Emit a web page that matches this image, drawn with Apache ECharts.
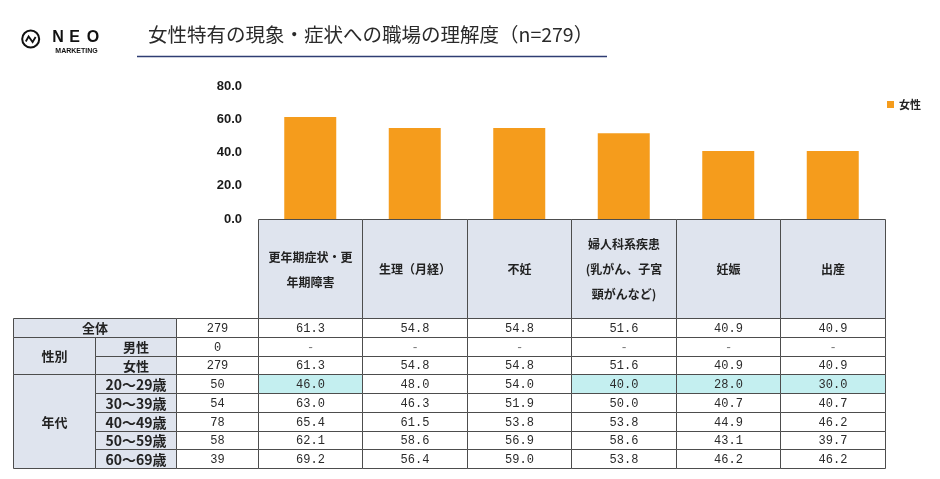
<!DOCTYPE html>
<html>
<head>
<meta charset="utf-8">
<script src="https://cdn.jsdelivr.net/npm/echarts@6/dist/echarts.min.js"></script>
<style>
html,body{margin:0;padding:0;background:#fff;}
#chart{width:940px;height:479px;}
</style>
</head>
<body>
<div id="chart"></div>
<script>
// ---------- data ----------
const titleText = '女性特有の現象・症状への職場の理解度（n=279）';
const seriesName = '女性';
const categories = ['更年期症状・更\n年期障害', '生理（月経）', '不妊', '婦人科系疾患\n(乳がん、子宮\n頸がんなど)', '妊娠', '出産'];
const femaleValues = [61.3, 54.8, 54.8, 51.6, 40.9, 40.9];
const yTicks = [0, 20, 40, 60, 80];

const rowLabels = ['全体', '男性', '女性', '20～29歳', '30～39歳', '40～49歳', '50～59歳', '60～69歳'];
const sampleSizes = [279, 0, 279, 50, 54, 78, 58, 39];
const rowAll = [61.3, 54.8, 54.8, 51.6, 40.9, 40.9];
const rowMale = [null, null, null, null, null, null];
const rowFemale = [61.3, 54.8, 54.8, 51.6, 40.9, 40.9];
const row20s = [46.0, 48.0, 54.0, 40.0, 28.0, 30.0];
const row30s = [63.0, 46.3, 51.9, 50.0, 40.7, 40.7];
const row40s = [65.4, 61.5, 53.8, 53.8, 44.9, 46.2];
const row50s = [62.1, 58.6, 56.9, 58.6, 43.1, 39.7];
const row60s = [69.2, 56.4, 59.0, 53.8, 46.2, 46.2];
const groupNames = ['性別', '年代'];
const groupRows = [[1, 2], [3, 7]];
const highlightRow = 3;
const highlightCols = [0, 3, 4, 5];

// ---------- layout ----------
const tableValues = [rowAll, rowMale, rowFemale, row20s, row30s, row40s, row50s, row60s];
const W = 0.781;           // narrow column width in value-column units
const H = 5.29;            // header row height in body-row units
const colEdges = [-3 * W, -2 * W, -W, 0, 1, 2, 3, 4, 5, 6];
const rowEdges = [0, H];
for (let i = 1; i <= rowLabels.length; i++) rowEdges.push(H + i);

const HEAD_BG = '#dfe4ee';
const HL_BG = '#c4eff0';
const cells = [];
categories.forEach((c, i) => cells.push({c0: 3 + i, c1: 4 + i, r0: 0, r1: 1, text: c, fill: HEAD_BG, kind: 'head'}));
cells.push({c0: 0, c1: 2, r0: 1, r1: 2, text: rowLabels[0], fill: HEAD_BG, kind: 'label'});
groupNames.forEach((g, gi) => {
  const [a, b] = groupRows[gi];
  cells.push({c0: 0, c1: 1, r0: 1 + a, r1: 2 + b, text: g, fill: HEAD_BG, kind: 'label'});
  for (let r = a; r <= b; r++) {
    cells.push({c0: 1, c1: 2, r0: 1 + r, r1: 2 + r, text: rowLabels[r], fill: HEAD_BG, kind: r >= 3 ? 'age' : 'label'});
  }
});
tableValues.forEach((row, r) => {
  cells.push({c0: 2, c1: 3, r0: 1 + r, r1: 2 + r, text: String(sampleSizes[r]), fill: '#ffffff', kind: 'num'});
  row.forEach((v, c) => {
    const hl = r === highlightRow && highlightCols.indexOf(c) >= 0;
    cells.push({c0: 3 + c, c1: 4 + c, r0: 1 + r, r1: 2 + r,
      text: v === null ? '-' : v.toFixed(1), fill: hl ? HL_BG : '#ffffff', kind: v === null ? 'dash' : 'num'});
  });
});

const fonts = {
  head: {fontSize: 12, fontWeight: 'bold', fontFamily: '"Noto Sans CJK JP", sans-serif', lineHeight: 25, fill: '#222'},
  label: {fontSize: 13, fontWeight: 'bold', fontFamily: '"Noto Sans CJK JP", sans-serif', fill: '#222'},
  age: {fontSize: 14, fontWeight: 'bold', fontFamily: '"Noto Sans CJK JP", sans-serif', fill: '#222'},
  num: {fontSize: 12, fontWeight: 'normal', fontFamily: '"Liberation Mono", monospace', fill: '#2a2a2a'},
  dash: {fontSize: 12, fontWeight: 'normal', fontFamily: '"Liberation Mono", monospace', fill: '#777'}
};

const chart = echarts.init(document.getElementById('chart'), null, {renderer: 'canvas'});

const logoFont = '"Liberation Sans", Arial, sans-serif';
const option = {
  backgroundColor: '#ffffff',
  animation: false,
  legend: {
    data: [seriesName],
    right: 14, top: 94,
    icon: 'rect', itemWidth: 7, itemHeight: 7, itemGap: 6,
    textStyle: {fontSize: 11, fontWeight: 'bold', color: '#222', fontFamily: '"Noto Sans CJK JP", sans-serif'}
  },
  grid: [
    {left: 258, right: 55, top: 86, bottom: 260, containLabel: false},
    {left: 13, right: 55, top: 219, bottom: 11, containLabel: false}
  ],
  xAxis: [
    {type: 'category', gridIndex: 0, data: categories, axisLabel: {show: false}, axisTick: {show: false}, axisLine: {show: false}},
    {type: 'value', gridIndex: 1, min: colEdges[0], max: colEdges[colEdges.length - 1], show: false}
  ],
  yAxis: [
    {type: 'value', gridIndex: 0, min: yTicks[0], max: yTicks[yTicks.length - 1], interval: 20,
      splitLine: {show: false}, axisLine: {show: false}, axisTick: {show: false},
      axisLabel: {margin: 16, fontSize: 13, fontWeight: 'bold', color: '#1a1a1a', fontFamily: '"Liberation Sans", Arial, sans-serif',
        formatter: v => v.toFixed(1)}},
    {type: 'value', gridIndex: 1, min: 0, max: rowEdges[rowEdges.length - 1], inverse: true, show: false}
  ],
  series: [
    {
      name: seriesName, type: 'bar', xAxisIndex: 0, yAxisIndex: 0,
      data: femaleValues, barWidth: 52,
      itemStyle: {color: '#F59C1C'}
    },
    {
      type: 'custom', xAxisIndex: 1, yAxisIndex: 1, clip: false, silent: true,
      data: cells.map(c => [(colEdges[c.c0] + colEdges[c.c1]) / 2, (rowEdges[c.r0] + rowEdges[c.r1]) / 2]),
      renderItem: function (params, api) {
        const c = cells[params.dataIndex];
        const p0 = api.coord([colEdges[c.c0], rowEdges[c.r0]]);
        const p1 = api.coord([colEdges[c.c1], rowEdges[c.r1]]);
        const x0 = Math.round(p0[0]) + 0.5, y0 = Math.round(p0[1]) + 0.5;
        const x1 = Math.round(p1[0]) + 0.5, y1 = Math.round(p1[1]) + 0.5;
        const f = fonts[c.kind];
        return {
          type: 'group',
          children: [
            {type: 'rect', shape: {x: x0, y: y0, width: x1 - x0, height: y1 - y0},
              style: {fill: c.fill, stroke: '#4d4d4d', lineWidth: 1}},
            {type: 'text', style: Object.assign({
              text: c.text, x: (x0 + x1) / 2, y: (y0 + y1) / 2 + 0.5,
              align: 'center', verticalAlign: 'middle'
            }, f)}
          ]
        };
      }
    }
  ],
  graphic: [
    {type: 'text', x: 148, y: 35, style: {text: titleText, fontSize: 19.5, fill: '#2a2a2a', verticalAlign: 'middle', fontFamily: '"Noto Sans CJK JP", sans-serif'}},
    {type: 'line', shape: {x1: 137, y1: 56.5, x2: 607, y2: 56.5}, style: {stroke: '#2f3d73', lineWidth: 1.5}},
    {type: 'circle', shape: {cx: 30.7, cy: 39, r: 8.5}, style: {fill: 'none', stroke: '#111', lineWidth: 2}},
    {type: 'polyline', shape: {points: [[25.8, 41.5], [28.6, 36.5], [32.6, 42], [35.6, 37]]}, style: {fill: 'none', stroke: '#111', lineWidth: 1.8}},
    {type: 'text', x: 58, y: 37.5, style: {text: 'N', fontSize: 16, fontWeight: 'bold', fill: '#111', align: 'center', verticalAlign: 'middle', fontFamily: logoFont}},
    {type: 'text', x: 74.5, y: 37.5, style: {text: 'E', fontSize: 16, fontWeight: 'bold', fill: '#111', align: 'center', verticalAlign: 'middle', fontFamily: logoFont}},
    {type: 'text', x: 93, y: 37.5, style: {text: 'O', fontSize: 16, fontWeight: 'bold', fill: '#111', align: 'center', verticalAlign: 'middle', fontFamily: logoFont}},
    {type: 'text', x: 76.5, y: 51.5, style: {text: 'MARKETING', fontSize: 7, fontWeight: 'bold', fill: '#111', align: 'center', verticalAlign: 'middle', fontFamily: logoFont}}
  ]
};
chart.setOption(option);
</script>
</body>
</html>
